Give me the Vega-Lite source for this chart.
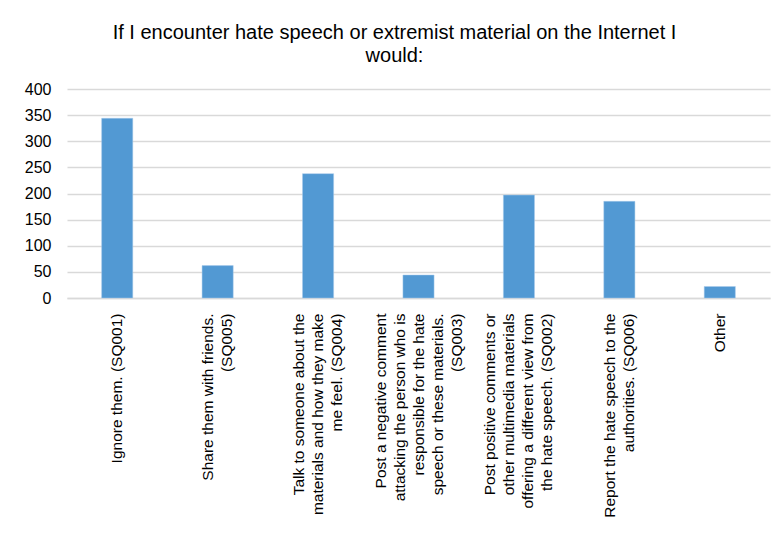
{
  "$schema": "https://vega.github.io/schema/vega-lite/v6.json",
  "width": 703,
  "height": 209,
  "autosize": {"type": "none"},
  "padding": {"left": 67, "top": 89, "right": 10, "bottom": 238},
  "background": "white",
  "title": {
    "text": ["If I encounter hate speech or extremist material on the Internet I", "would:"],
    "anchor": "middle",
    "frame": "group",
    "dx": -24,
    "offset": 15,
    "font": "Liberation Sans",
    "fontSize": 20,
    "fontWeight": "normal",
    "color": "#000000",
    "lineHeight": 23
  },
  "data": {
    "values": [
      {"option": "Ignore them. (SQ001)", "count": 344},
      {"option": "Share them with friends.|(SQ005)", "count": 62},
      {"option": "Talk to someone about the|materials and how they make|me feel. (SQ004)", "count": 238},
      {"option": "Post a negative comment|attacking the person who is|responsible for the hate|speech or these materials.|(SQ003)", "count": 44},
      {"option": "Post positive comments or|other multimedia materials|offering a different view from|the hate speech. (SQ002)", "count": 197},
      {"option": "Report the hate speech to the|authorities. (SQ006)", "count": 185},
      {"option": "Other", "count": 22}
    ]
  },
  "mark": {"type": "bar", "color": "#5299D3", "stroke": "#A9CBEA", "strokeWidth": 0.5},
  "encoding": {
    "x": {
      "field": "option",
      "type": "nominal",
      "sort": null,
      "scale": {"paddingInner": 0.69, "paddingOuter": 0.345},
      "axis": {
        "title": null,
        "labelAngle": 270,
        "labelAlign": "right",
        "labelBaseline": "middle",
        "labelExpr": "split(datum.label, '|')",
        "labelLineHeight": 19,
        "labelFont": "Liberation Sans",
        "labelFontSize": 15.5,
        "labelColor": "#000000",
        "labelPadding": 15,
        "labelLimit": 0,
        "labelOffset": {
          "condition": [
            {"test": "length(split(datum.value, '|')) == 2", "value": -9.5},
            {"test": "length(split(datum.value, '|')) == 3", "value": -19},
            {"test": "length(split(datum.value, '|')) == 4", "value": -28.5},
            {"test": "length(split(datum.value, '|')) == 5", "value": -38}
          ],
          "value": 0
        },
        "ticks": false,
        "domainColor": "#D9D9D9",
        "domainWidth": 1.3,
        "grid": false
      }
    },
    "y": {
      "field": "count",
      "type": "quantitative",
      "scale": {"domain": [0, 400]},
      "axis": {
        "title": null,
        "values": [0, 50, 100, 150, 200, 250, 300, 350, 400],
        "labelFont": "Liberation Sans",
        "labelFontSize": 16,
        "labelColor": "#000000",
        "labelPadding": 16,
        "ticks": false,
        "domain": false,
        "gridColor": "#D9D9D9",
        "gridWidth": 1.3
      }
    }
  },
  "config": {
    "view": {"stroke": null}
  }
}
